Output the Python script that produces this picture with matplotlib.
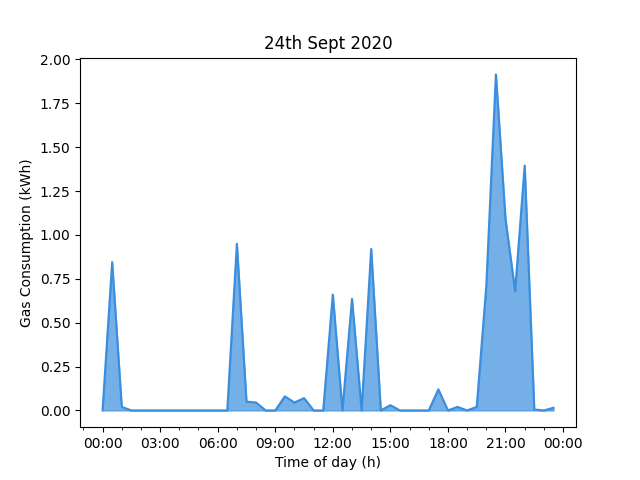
import matplotlib
matplotlib.use("Agg")
from matplotlib import pyplot as plt
import matplotlib.dates as mdates
import pandas as pd

# half-hourly gas readings for 24th Sept 2020
times = pd.date_range("2020-09-24 00:00", periods=48, freq="30min")
gas_kwh = [0.00, 0.845, 0.02, 0.00, 0.00, 0.00, 0.00, 0.00,
           0.00, 0.00, 0.00, 0.00, 0.00, 0.00, 0.95, 0.05,
           0.045, 0.00, 0.00, 0.08, 0.045, 0.07, 0.00, 0.00,
           0.66, 0.00, 0.635, 0.00, 0.92, 0.00, 0.03, 0.00,
           0.00, 0.00, 0.00, 0.12, 0.00, 0.02, 0.00, 0.02,
           0.71, 1.915, 1.09, 0.68, 1.395, 0.005, 0.00, 0.015]

line_col = "#3a8ede"

fig, ax = plt.subplots(figsize=(6.4, 4.8), dpi=100)
ax.plot(times, gas_kwh, color=line_col, linewidth=1.5)
ax.fill_between(times, gas_kwh, color=line_col, alpha=0.7)

ax.xaxis.set_major_locator(mdates.HourLocator(byhour=range(0, 24, 3)))
ax.xaxis.set_minor_locator(mdates.HourLocator())
ax.xaxis.set_major_formatter(mdates.DateFormatter("%H:%M"))

ax.set_title("24th Sept 2020")
ax.set_xlabel("Time of day (h)")
ax.set_ylabel("Gas Consumption (kWh)")

plt.savefig("out.png")
